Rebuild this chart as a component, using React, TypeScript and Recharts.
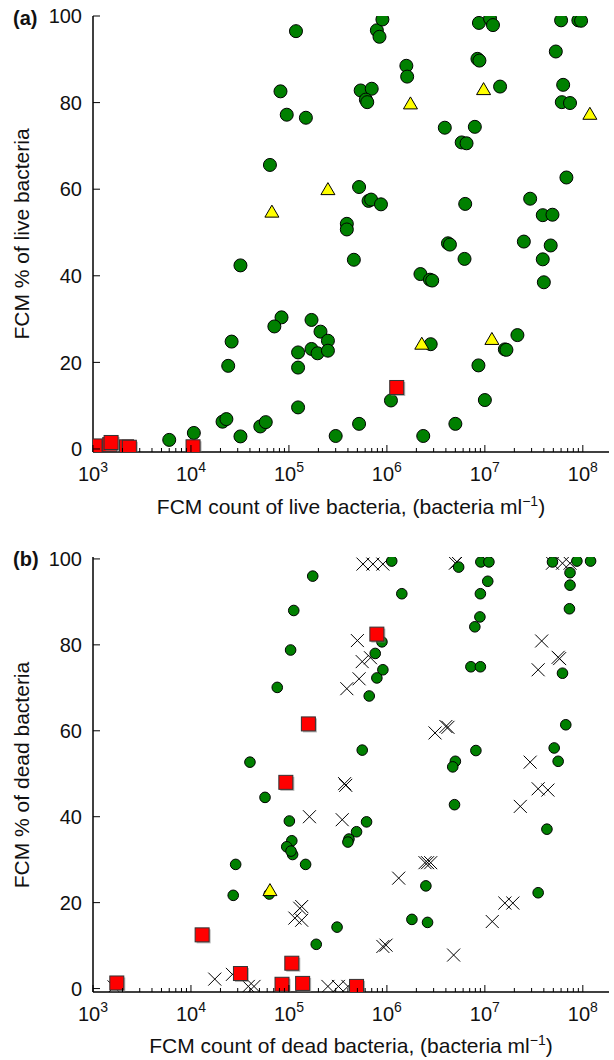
import React from "react";
import { ScatterChart, Scatter, XAxis, YAxis } from "recharts";

// panel (a): live bacteria [count per ml, % live]
const liveCircles: [number, number][] = [
  [1.18e5, 96.5], [8.2e4, 82.6], [9.5e4, 77.2], [1.49e5, 76.5], [6.4e4, 65.6],
  [5.2e5, 60.5], [6.5e5, 57.3], [6.9e5, 57.6], [8.7e5, 56.5], [3.9e5, 52.0],
  [3.9e5, 50.7], [7.9e5, 96.7], [8.4e5, 95.2], [9.0e5, 99.2], [5.4e5, 82.8],
  [7.0e5, 83.2], [6.1e5, 80.7], [6.3e5, 80.1], [1.58e6, 88.5], [1.61e6, 86.0],
  [3.9e6, 74.2], [5.8e6, 70.8], [6.5e6, 70.6], [7.9e6, 74.4], [8.7e6, 98.4],
  [1.13e7, 99.4], [1.21e7, 97.9], [8.4e6, 90.1], [8.8e6, 89.7], [1.43e7, 83.7],
  [6.3e6, 56.6], [6.0e7, 99.0], [9.0e7, 99.0], [9.6e7, 98.9], [5.3e7, 91.8],
  [6.3e7, 84.1], [6.1e7, 80.1], [7.4e7, 79.9], [6.8e7, 62.7], [2.9e7, 57.8],
  [3.9e7, 54.0], [4.9e7, 54.1], [4.2e6, 47.5], [4.4e6, 47.2], [2.5e7, 47.9],
  [4.7e7, 47.0], [4.6e5, 43.7], [3.2e4, 42.4], [6.2e6, 43.9], [3.9e7, 43.8],
  [4.0e7, 38.5], [2.2e6, 40.4], [2.75e6, 39.1], [2.9e6, 38.9], [8.4e4, 30.4],
  [7.1e4, 28.3], [1.7e5, 29.8], [2.6e4, 24.8], [2.4e4, 19.2], [2.1e5, 27.1],
  [2.5e5, 25.0], [1.24e5, 22.3], [1.24e5, 18.8], [1.7e5, 23.1], [1.96e5, 22.1],
  [2.5e5, 22.7], [2.8e6, 24.2], [1.6e7, 23.0], [1.66e7, 22.9], [2.15e7, 26.3],
  [8.6e6, 19.3], [1.1e6, 11.2], [1.0e7, 11.3], [1.24e5, 9.6], [2.1e4, 6.3],
  [2.3e4, 6.9], [5.1e4, 5.2], [5.8e4, 6.2], [5.2e5, 5.8], [5.0e6, 5.8],
  [3.2e4, 2.9], [3.0e5, 3.0], [2.35e6, 3.0], [6.0e3, 2.1], [1.07e4, 3.7],
];
const liveTriangles: [number, number][] = [
  [2.5e5, 59.9], [6.7e4, 54.7], [1.74e6, 79.7], [9.7e6, 83.0], [1.18e8, 77.3],
  [2.27e6, 24.2], [1.18e7, 25.3],
];
const liveSquares: [number, number][] = [
  [1.05e3, 0.7], [1.48e3, 1.0], [1.53e3, 1.5], [2.2e3, 0.5], [2.35e3, 0.4],
  [1.05e4, 0.5], [1.26e6, 14.2],
];

// panel (b): dead bacteria [count per ml, % dead]
const deadCrosses: [number, number][] = [
  [5.7e5, 98.8], [7.2e5, 98.8], [9.1e5, 98.8], [5.0e6, 99.0], [5.2e6, 99.3],
  [4.9e7, 99.0], [6.2e7, 99.0], [7.4e7, 99.0], [5.0e5, 81.0], [5.6e5, 76.1],
  [6.8e5, 77.0], [5.2e5, 72.1], [3.9e5, 69.8], [3.1e6, 59.5], [4.0e6, 61.0],
  [4.2e6, 60.8], [3.8e7, 80.9], [3.5e7, 74.2], [5.6e7, 77.1], [5.8e7, 76.8],
  [2.9e7, 52.7], [3.7e5, 47.7], [3.8e5, 47.3], [3.5e7, 46.5], [4.4e7, 46.2],
  [1.62e5, 40.0], [3.5e5, 39.3], [1.32e6, 25.7], [2.45e6, 29.3], [2.6e6, 29.3],
  [2.8e6, 29.3], [1.29e5, 18.7], [1.35e5, 19.1], [1.15e5, 16.4], [1.35e5, 15.9],
  [9.1e5, 9.8], [9.8e5, 10.1], [4.8e6, 7.8], [1.19e7, 15.6], [1.6e7, 19.9],
  [1.93e7, 19.9], [2.3e7, 42.4], [1.75e4, 2.2], [2.65e4, 3.3], [3.85e4, 0.5],
  [4.4e4, 0.5], [1.64e3, 0.4], [2.5e5, 0.5], [3.2e5, 0.5], [4.0e5, 0.5],
];
const deadCircles: [number, number][] = [
  [1.75e5, 96.0], [1.12e5, 88.0], [1.04e5, 78.8], [7.6e4, 70.1], [1.12e6, 99.5],
  [1.42e6, 91.9], [8.9e5, 80.7], [7.6e5, 78.0], [9.1e5, 74.2], [7.9e5, 72.3],
  [6.6e5, 68.1], [5.6e5, 55.5], [4.0e4, 52.7], [5.4e6, 98.1], [9.1e6, 99.3],
  [1.1e7, 99.3], [1.07e7, 94.8], [9.0e6, 91.9], [8.9e6, 86.5], [7.9e6, 84.2],
  [7.2e6, 74.9], [9.0e6, 74.9], [8.1e6, 55.4], [5.0e6, 52.9], [4.7e6, 51.6],
  [4.9e7, 99.3], [8.7e7, 99.5], [1.2e8, 99.5], [7.4e7, 96.8], [7.4e7, 93.9],
  [7.3e7, 88.4], [6.2e7, 73.4], [6.7e7, 61.4], [5.1e7, 56.0], [5.6e7, 52.9],
  [5.7e4, 44.5], [1.01e5, 39.0], [1.07e5, 34.4], [9.5e4, 33.0], [1.09e5, 31.2],
  [1.05e5, 32.0], [1.48e5, 28.9], [2.86e4, 28.9], [2.7e4, 21.7], [6.2e5, 38.8],
  [4.9e5, 36.5], [4.1e5, 34.8], [4.0e5, 34.1], [3.1e5, 14.3], [1.9e5, 10.3],
  [4.9e6, 42.8], [2.5e6, 23.9], [1.8e6, 16.1], [2.6e6, 15.4], [4.3e7, 37.1],
  [3.5e7, 22.3], [6.3e4, 22.0],
];
const deadSquares: [number, number][] = [
  [9.3e4, 48.0], [7.9e5, 82.5], [1.58e5, 61.6], [1.3e4, 12.5], [3.2e4, 3.5],
  [1.75e3, 1.3], [1.07e5, 5.9], [8.5e4, 1.0], [1.38e5, 1.2], [4.9e5, 0.5],
];
const deadTriangles: [number, number][] = [[6.4e4, 22.8]];

const majorX = [1e3, 1e4, 1e5, 1e6, 1e7, 1e8];
const minorMult = [2, 3, 4, 5, 6, 7, 8, 9];
const xTicks = [
  ...majorX,
  ...majorX.flatMap((d) => minorMult.map((m) => m * d)).filter((v) => v < 1.85e8),
].sort((a, b) => a - b);
const yTicks = [0, 20, 40, 60, 80, 100];
const xDomain: [number, number] = [1000, 1.85e8];

const FONT = "'Liberation Sans', Arial, Helvetica, sans-serif";
const toPts = (arr: [number, number][]) => arr.map(([x, y]) => ({ x, y }));
const isMajor = (v: number) => Math.abs(Math.log10(v) - Math.round(Math.log10(v))) < 1e-6;

const BottomTick = ({ x, y, payload }: any) => {
  const major = isMajor(payload.value);
  const exp = Math.round(Math.log10(payload.value));
  return (
    <g>
      <line x1={x} x2={x} y1={y} y2={y - (major ? 7 : 4)} stroke="#000" strokeWidth={1} />
      {major && (
        <text x={x} y={y + 29} textAnchor="middle" fontSize={20} fontFamily={FONT} fill="#111">
          10
          <tspan dy={-9} fontSize={14}>{exp}</tspan>
        </text>
      )}
    </g>
  );
};

const TopTick = ({ x, y, payload }: any) => {
  const major = isMajor(payload.value);
  return <line x1={x} x2={x} y1={y} y2={y + (major ? 7 : 4)} stroke="#000" strokeWidth={1} />;
};

const LeftTick = ({ x, y, payload }: any) => (
  <g>
    <line x1={x} x2={x + 7} y1={y} y2={y} stroke="#000" strokeWidth={1} />
    <text x={x - 11} y={y} dy="0.36em" textAnchor="end" fontSize={20} fontFamily={FONT} fill="#111">
      {payload.value}
    </text>
  </g>
);

const RightTick = ({ x, y }: any) => (
  <line x1={x} x2={x - 7} y1={y} y2={y} stroke="#000" strokeWidth={1} />
);

const dot = (r: number) => (p: any) => (
  <circle cx={p.cx} cy={p.cy} r={r} fill="#008000" stroke="#000" strokeWidth={1} />
);
const square = (p: any) => (
  <g>
    <rect x={p.cx - 5.5} y={p.cy - 5.5} width={14} height={14} fill="#777" opacity={0.55} />
    <rect x={p.cx - 7} y={p.cy - 7} width={14} height={14} fill="#ff0000" stroke="#333" strokeWidth={1} />
  </g>
);
const triangle = (p: any) => (
  <polygon
    points={`${p.cx},${p.cy - 7} ${p.cx - 7},${p.cy + 5} ${p.cx + 7},${p.cy + 5}`}
    fill="#ffff00"
    stroke="#000"
    strokeWidth={1}
  />
);
const cross = (p: any) => (
  <g stroke="#000" strokeWidth={1}>
    <line x1={p.cx - 6.5} y1={p.cy - 6.5} x2={p.cx + 6.5} y2={p.cy + 6.5} />
    <line x1={p.cx - 6.5} y1={p.cy + 6.5} x2={p.cx + 6.5} y2={p.cy - 6.5} />
  </g>
);

function Panel({
  top,
  height,
  bottomH,
  yDomain,
  children,
}: {
  top: number;
  height: number;
  bottomH: number;
  yDomain: [number, number];
  children: React.ReactNode;
}) {
  const axisLine = { stroke: "#000", strokeWidth: 1.5 };
  return (
    <ScatterChart width={614} height={height} margin={{ top, right: 5, bottom: 0, left: 0 }}>
      <XAxis
        dataKey="x"
        type="number"
        scale="log"
        domain={xDomain}
        allowDataOverflow
        ticks={xTicks}
        interval={0}
        tick={<BottomTick />}
        tickLine={false}
        tickSize={0}
        tickMargin={0}
        axisLine={axisLine}
        height={bottomH}
      />
      <XAxis
        xAxisId="top"
        orientation="top"
        dataKey="x"
        type="number"
        scale="log"
        domain={xDomain}
        allowDataOverflow
        ticks={xTicks}
        interval={0}
        tick={<TopTick />}
        tickLine={false}
        tickSize={0}
        tickMargin={0}
        axisLine={axisLine}
        height={0}
      />
      <YAxis
        dataKey="y"
        type="number"
        domain={yDomain}
        allowDataOverflow
        ticks={yTicks}
        interval={0}
        tick={<LeftTick />}
        tickLine={false}
        tickSize={0}
        tickMargin={0}
        axisLine={axisLine}
        width={93}
      />
      <YAxis
        yAxisId="right"
        orientation="right"
        dataKey="y"
        type="number"
        domain={yDomain}
        allowDataOverflow
        ticks={yTicks}
        interval={0}
        tick={<RightTick />}
        tickLine={false}
        tickSize={0}
        tickMargin={0}
        axisLine={axisLine}
        width={0}
      />
      {children}
    </ScatterChart>
  );
}

const Sup = () => (
  <tspan dy={-8} fontSize={14}>
    −1
  </tspan>
);

export default function App() {
  return (
    <div style={{ position: "absolute", left: 0, top: 0, width: 614, height: 1060, background: "#fff" }}>
      <div style={{ position: "absolute", left: 0, top: 0 }}>
        <Panel top={16} height={530} bottomH={78} yDomain={[-0.7, 100]}>
          <Scatter data={toPts(liveCircles)} shape={dot(6.5)} isAnimationActive={false} />
          <Scatter data={toPts(liveTriangles)} shape={triangle} isAnimationActive={false} />
          <Scatter data={toPts(liveSquares)} shape={square} isAnimationActive={false} />
        </Panel>
      </div>
      <div style={{ position: "absolute", left: 0, top: 530 }}>
        <Panel top={27} height={530} bottomH={68} yDomain={[-0.8, 100.45]}>
          <Scatter data={toPts(deadCrosses)} shape={cross} isAnimationActive={false} />
          <Scatter data={toPts(deadCircles)} shape={dot(5.3)} isAnimationActive={false} />
          <Scatter data={toPts(deadSquares)} shape={square} isAnimationActive={false} />
          <Scatter data={toPts(deadTriangles)} shape={triangle} isAnimationActive={false} />
        </Panel>
      </div>
      <svg
        width={614}
        height={1060}
        style={{ position: "absolute", left: 0, top: 0, pointerEvents: "none" }}
        fontFamily={FONT}
        fill="#111"
      >
        <text x={13} y={25} fontSize={20} fontWeight="bold">(a)</text>
        <text x={13} y={566} fontSize={20} fontWeight="bold">(b)</text>
        <text x={29} y={234} fontSize={21} textAnchor="middle" transform="rotate(-90 29 234)">
          FCM % of live bacteria
        </text>
        <text x={29} y={775} fontSize={21} textAnchor="middle" transform="rotate(-90 29 775)">
          FCM % of dead bacteria
        </text>
        <text x={351} y={514} fontSize={21} textAnchor="middle">
          FCM count of live bacteria, (bacteria ml<Sup />
          <tspan dy={8}>)</tspan>
        </text>
        <text x={351} y={1053} fontSize={21} textAnchor="middle">
          FCM count of dead bacteria, (bacteria ml<Sup />
          <tspan dy={8}>)</tspan>
        </text>
      </svg>
    </div>
  );
}
